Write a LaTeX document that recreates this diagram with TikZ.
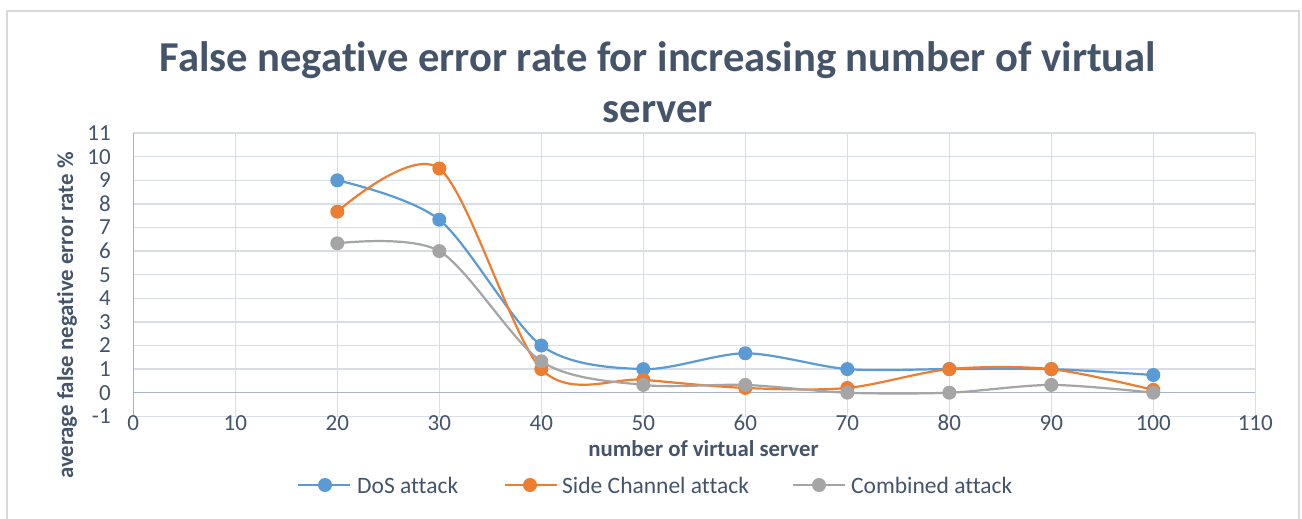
\documentclass[tikz,border=0pt]{standalone}
\usepackage{fontspec}
\setmainfont{Carlito}[Ligatures={TeX,NoCommon}]
\definecolor{txt}{HTML}{44546A}
\definecolor{gridc}{HTML}{D9DDE6}
\definecolor{axisc}{HTML}{A9B3C6}
\definecolor{framec}{HTML}{D9D9D9}
\definecolor{dosc}{HTML}{5B9BD5}
\definecolor{sidec}{HTML}{ED7D31}
\definecolor{combc}{HTML}{A5A5A5}
\tikzset{
  gridline/.style={draw=gridc, line width=1.3pt},
  axisline/.style={draw=axisc, line width=1.5pt},
  series/.style={line width=2.2pt, smooth, tension=0.5},
  ticklab/.style={inner sep=0pt, font=\fontsize{23}{27}\selectfont, text=txt},
  axtitle/.style={inner sep=0pt, font=\bfseries\fontsize{22.8}{27}\selectfont, text=txt},
  legtext/.style={inner sep=0pt, anchor=west, font=\fontsize{23.5}{28}\selectfont, text=txt},
  titletext/.style={anchor=base, inner sep=0pt, font=\bfseries\fontsize{42.6}{50}\selectfont, text=txt},
}
\begin{document}
\begin{tikzpicture}[x=1pt,y=-1pt]
\clip (0,0) rectangle (1302,519);
\useasboundingbox (0,0) rectangle (1302,519);
\fill[white] (0,0) rectangle (1302,519);
\draw[framec, line width=1.5pt] (7,11) rectangle (1299,560);
% title
\node[titletext] (title1) at (658,72) {False negative error rate for increasing number of virtual};
\node[titletext] (title2) at (658,122) {server};
% axis titles
\node[axtitle, anchor=base] (xtitle) at (703.5,456.5) {number of virtual server};
\node[axtitle, anchor=base, rotate=90] (ytitle) at (73,315.5) {average false negative error rate \%};
% plot
\begin{scope}[shift={(133.3pt,-392.7pt)}, x=10.2pt, y=23.6pt]
  \foreach \i in {-1,1,2,...,11} \draw[gridline] (0,\i) -- (110,\i);
  \foreach \i in {10,20,...,110} \draw[gridline] (\i,-1) -- (\i,11);
  \draw[axisline] (0,-1) -- (0,11);
  \draw[axisline] (0,0) -- (110,0);
  \foreach \i in {-1,0,...,11} \node[ticklab, anchor=east] (yt\i) at (-2.2,\i) {\i};
  \foreach \i in {0,10,...,110} \node[ticklab, anchor=base] (xt\i) at (\i,-1.6) {\i};
  % DoS
  \draw[dosc, series] plot coordinates {(20,9) (30,7.33) (40,2) (50,1) (60,1.67) (70,1) (80,1) (90,1) (100,0.75)};
  \foreach \p in {(20,9),(30,7.33),(40,2),(50,1),(60,1.67),(70,1),(80,1),(90,1),(100,0.75)} \fill[dosc] \p circle[radius=7pt];
  % Side channel
  \draw[sidec, series] plot coordinates {(20,7.67) (30,9.5) (40,1) (50,0.55) (60,0.2) (70,0.2) (80,1) (90,1) (100,0.12)};
  \foreach \p in {(20,7.67),(30,9.5),(40,1),(50,0.55),(60,0.2),(70,0.2),(80,1),(90,1),(100,0.12)} \fill[sidec] \p circle[radius=7pt];
  % Combined
  \draw[combc, series] plot coordinates {(20,6.33) (30,6) (40,1.33) (50,0.33) (60,0.33) (70,0) (80,0) (90,0.33) (100,0)};
  \foreach \p in {(20,6.33),(30,6),(40,1.33),(50,0.33),(60,0.33),(70,0),(80,0),(90,0.33),(100,0)} \fill[combc] \p circle[radius=7pt];
\end{scope}
% legend
\coordinate (l1a) at (298,485); \coordinate (l1b) at (350,485); \coordinate (l1m) at (325,485);
\coordinate (l2a) at (505,485); \coordinate (l2b) at (557,485); \coordinate (l2m) at (530,485);
\coordinate (l3a) at (793,485); \coordinate (l3b) at (845,485); \coordinate (l3m) at (819,485);
\draw[dosc, line width=2.2pt] (l1a) -- (l1b); \fill[dosc] (l1m) circle[radius=7pt];
\draw[sidec, line width=2.2pt] (l2a) -- (l2b); \fill[sidec] (l2m) circle[radius=7pt];
\draw[combc, line width=2.2pt] (l3a) -- (l3b); \fill[combc] (l3m) circle[radius=7pt];
\node[legtext] (leg1) at (357,485) {DoS attack};
\node[legtext] (leg2) at (562,485) {Side Channel attack};
\node[legtext] (leg3) at (851,485) {Combined attack};
\end{tikzpicture}
\end{document}
